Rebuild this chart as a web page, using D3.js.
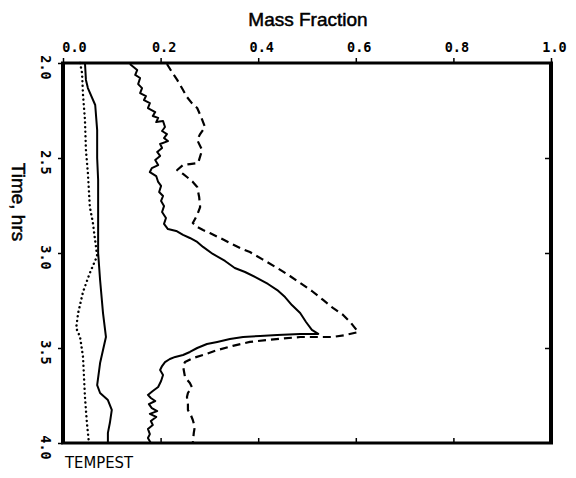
<!DOCTYPE html>
<html><head><meta charset="utf-8">
<script src="https://cdn.jsdelivr.net/npm/d3@7"></script>
<style>body{margin:0;background:#fff}svg{display:block}</style>
</head><body><svg id="c" width="576" height="478"></svg>
<script>
// Time (hrs) and mass fraction pairs
const dottedTime = [2.0,2.053,2.168,2.3,2.458,2.579,2.758,2.837,3.016,3.105,3.205,3.316,3.395,3.442,3.547,3.758,3.895,3.995];
const dottedFrac = [0.035,0.039,0.041,0.045,0.047,0.051,0.055,0.061,0.070,0.055,0.041,0.031,0.027,0.035,0.041,0.045,0.049,0.053];

const solidLowTime = [2.0,2.089,2.132,2.221,2.353,2.5,2.616,2.826,3.0,3.142,3.316,3.442,3.511,3.579,3.695,3.737,3.774,3.826,3.895,3.947,4.0];
const solidLowFrac = [0.045,0.047,0.051,0.066,0.070,0.070,0.072,0.072,0.072,0.076,0.082,0.088,0.082,0.076,0.070,0.076,0.092,0.100,0.096,0.092,0.092];

const solidMidTime = [2.005,2.037,2.063,2.079,2.111,2.132,2.158,2.174,2.195,2.211,2.237,2.258,2.279,2.289,2.311,2.305,2.337,2.358,2.374,2.395,2.411,2.426,2.447,2.468,2.489,2.511,2.537,2.553,2.574,2.595,2.626,2.647,2.679,2.700,2.726,2.753,2.784,2.816,2.847,2.874,2.884,2.905,2.921,2.942,2.968,3.005,3.042,3.079,3.100,3.132,3.163,3.195,3.232,3.274,3.316,3.363,3.405,3.426,
  3.426,3.432,3.437,3.442,3.453,3.468,3.479,3.500,3.521,3.537,3.547,3.558,3.574,3.595,3.616,3.642,3.674,3.705,3.726,3.747,3.763,3.779,3.795,3.816,3.832,3.847,3.863,3.884,3.905,3.926,3.953,3.974,4.0];
const solidMidFrac = [0.137,0.152,0.148,0.158,0.154,0.162,0.158,0.170,0.166,0.178,0.174,0.189,0.184,0.195,0.191,0.205,0.209,0.203,0.213,0.207,0.215,0.199,0.203,0.193,0.199,0.189,0.195,0.182,0.178,0.191,0.195,0.201,0.197,0.205,0.201,0.207,0.203,0.211,0.207,0.215,0.232,0.246,0.260,0.275,0.287,0.307,0.332,0.352,0.373,0.398,0.420,0.439,0.455,0.469,0.486,0.498,0.510,0.523,
  0.486,0.439,0.404,0.369,0.342,0.316,0.295,0.275,0.260,0.246,0.230,0.219,0.209,0.203,0.199,0.205,0.201,0.195,0.184,0.174,0.180,0.189,0.176,0.182,0.193,0.178,0.191,0.180,0.184,0.174,0.178,0.174,0.180];

const dashedTime = [2.005,2.047,2.089,2.142,2.179,2.211,2.237,2.284,2.337,2.374,2.405,2.458,2.526,2.532,2.537,2.563,2.584,2.600,2.626,2.653,2.705,2.758,2.800,2.842,2.863,2.879,2.895,2.921,2.947,2.974,2.995,3.032,3.079,3.121,3.158,3.200,3.247,3.289,3.326,3.368,3.416,
  3.432,3.442,3.442,3.458,3.468,3.489,3.511,3.537,3.553,3.574,3.595,3.653,3.684,3.705,3.737,3.758,3.795,3.826,3.853,3.879,3.916,3.947,4.0];
const dashedFrac = [0.213,0.223,0.234,0.246,0.254,0.264,0.275,0.283,0.291,0.281,0.275,0.285,0.277,0.260,0.246,0.234,0.246,0.254,0.266,0.275,0.279,0.281,0.275,0.266,0.275,0.287,0.301,0.322,0.342,0.363,0.383,0.408,0.439,0.465,0.486,0.510,0.533,0.553,0.574,0.590,0.605,
  0.578,0.553,0.486,0.418,0.383,0.348,0.316,0.287,0.266,0.250,0.246,0.250,0.260,0.264,0.256,0.254,0.256,0.256,0.262,0.266,0.270,0.268,0.266];

const xTicks = [0.0,0.2,0.4,0.6,0.8,1.0];
const yTicks = [2.0,2.5,3.0,3.5,4.0];

const svg = d3.select("#c");
const L = 63, R = 551, T = 63, B = 443;
const x = d3.scaleLinear().domain([0,1]).range([L,R]);
const y = d3.scaleLinear().domain([2,4]).range([T,B]);

const line = d3.line().x(d=>x(d[1])).y(d=>y(d[0]));
function draw(ts, fs, dash, w){
  svg.append("path").datum(ts.map((t,i)=>[t,fs[i]]))
    .attr("d", line).attr("fill","none").attr("stroke","#000")
    .attr("stroke-width", w).attr("stroke-linejoin","round")
    .attr("stroke-linecap", dash==="dot" ? "round" : "butt")
    .attr("stroke-dasharray", dash==="dot" ? "0.1,4.5" : dash);
}
draw(dottedTime, dottedFrac, "dot", 2.4);
draw(solidLowTime, solidLowFrac, null, 2);
draw(solidMidTime, solidMidFrac, null, 2);
draw(dashedTime, dashedFrac, "8,5", 2.2);

// frame
svg.append("line").attr("x1",L-2).attr("x2",R+2).attr("y1",T).attr("y2",T).attr("stroke","#000").attr("stroke-width",3);
svg.append("line").attr("x1",L-2).attr("x2",R+2).attr("y1",B).attr("y2",B).attr("stroke","#000").attr("stroke-width",3);
svg.append("line").attr("x1",L).attr("x2",L).attr("y1",T-1).attr("y2",B+1).attr("stroke","#000").attr("stroke-width",4);
svg.append("line").attr("x1",R).attr("x2",R).attr("y1",T-1).attr("y2",B+1).attr("stroke","#000").attr("stroke-width",4);

const tickFont = "'DejaVu Sans Mono', monospace";
// top axis
const gTop = svg.append("g").attr("transform",`translate(0,${T})`)
  .call(d3.axisTop(x).tickValues(xTicks).tickFormat(d3.format(".1f")).tickSize(5).tickPadding(6));
gTop.select(".domain").remove();
gTop.selectAll("line").attr("stroke-width",1.5);
gTop.selectAll("text").attr("font-family",tickFont).attr("font-weight","bold").attr("font-size",13.5).attr("dx",3)
  .filter(d=>d===0).attr("dx",11);
// bottom inward ticks
const gBot = svg.append("g").attr("transform",`translate(0,${B})`)
  .call(d3.axisBottom(x).tickValues(xTicks.slice(1,-1)).tickSize(-5).tickFormat(""));
gBot.select(".domain").remove();
gBot.selectAll("line").attr("stroke-width",1.5);
// left axis
const gLeft = svg.append("g").attr("transform",`translate(${L},0)`)
  .call(d3.axisLeft(y).tickValues(yTicks).tickFormat(d3.format(".1f")).tickSize(5).tickPadding(0));
gLeft.select(".domain").remove();
gLeft.selectAll("line").attr("stroke-width",1.5);
gLeft.selectAll("text").attr("x",null).attr("dy",null)
  .attr("text-anchor","middle")
  .attr("transform","translate(-22,4) rotate(90)")
  .attr("font-family",tickFont).attr("font-weight","bold").attr("font-size",13.5);
// right inward ticks
const gRight = svg.append("g").attr("transform",`translate(${R},0)`)
  .call(d3.axisRight(y).tickValues(yTicks.slice(1,-1)).tickSize(-6).tickFormat(""));
gRight.select(".domain").remove();
gRight.selectAll("line").attr("stroke-width",1.5);

svg.append("text").attr("x",308).attr("y",26).attr("text-anchor","middle")
  .attr("font-family","'Liberation Sans', Arial, sans-serif").attr("font-size",19)
  .attr("stroke","#000").attr("stroke-width",0.5).text("Mass Fraction");
svg.append("text").attr("transform","translate(12,202) rotate(90)").attr("text-anchor","middle")
  .attr("font-family","'Liberation Sans', Arial, sans-serif").attr("font-size",19)
  .attr("stroke","#000").attr("stroke-width",0.5).text("Time, hrs");
svg.append("text").attr("x",65).attr("y",468)
  .attr("font-family","'Liberation Sans Narrow', 'DejaVu Sans Condensed', sans-serif").attr("font-size",15)
  .attr("textLength",68).attr("lengthAdjust","spacingAndGlyphs").text("TEMPEST");
</script></body></html>
